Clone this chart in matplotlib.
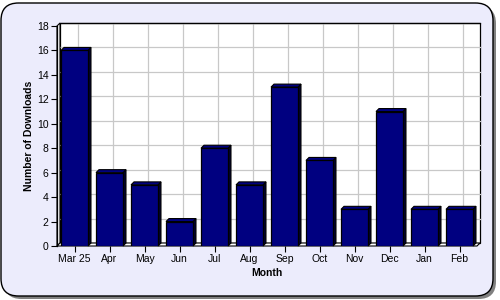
import matplotlib
matplotlib.use("Agg")
import matplotlib.pyplot as plt
from matplotlib.patches import Polygon, Rectangle, FancyBboxPatch

# Datos
months = ["Mar 25", "Apr", "May", "Jun", "Jul", "Aug", "Sep", "Oct", "Nov", "Dec", "Jan", "Feb"]
downloads = [16, 6, 5, 2, 8, 5, 13, 7, 3, 11, 3, 3]
y_ticks = [0, 2, 4, 6, 8, 10, 12, 14, 16, 18]

BG = "#ECECFC"
NAVY = "#000080"
SIDE = "#000030"
GRID = "#C8C8C8"

plt.rcParams["font.family"] = ["Liberation Sans", "DejaVu Sans"]

W, H = 500, 300
fig = plt.figure(figsize=(W / 100, H / 100), dpi=100)
fig.patch.set_facecolor("white")

# marco redondeado con sombra
shadow = FancyBboxPatch((4 / W, 1 / H), 492 / W, 293 / H,
                        boxstyle="round,pad=0,rounding_size=0.035",
                        transform=fig.transFigure, facecolor="#808080",
                        edgecolor="none", mutation_aspect=W / H, zorder=-10)
frame = FancyBboxPatch((1 / W, 4 / H), 492 / W, 293 / H,
                       boxstyle="round,pad=0,rounding_size=0.035",
                       transform=fig.transFigure, facecolor=BG,
                       edgecolor="black", linewidth=1.0, mutation_aspect=W / H, zorder=-9)
fig.patches.extend([shadow, frame])

ax = fig.add_axes([57 / W, 54 / H, 420 / W, 220 / H])
ax.set_facecolor("none")
n = len(months)
ax.set_xlim(-0.5, n - 0.5)
ax.set_ylim(0, 18)

# profundidad 3D en unidades de datos (~3 px)
dx = 3 / (420 / n)
dy = 3 / (220 / 18)

# pared de fondo
ax.add_patch(Rectangle((-0.5 + dx, dy), n, 18, facecolor="white",
                       edgecolor="black", linewidth=0.9, zorder=0, clip_on=False))
for y in y_ticks[1:-1]:
    ax.plot([-0.5 + dx, n - 0.5 + dx], [y + dy, y + dy], color=GRID, lw=0.9, zorder=1,
            clip_on=False)
for i in range(n):
    ax.plot([i + dx, i + dx], [dy, 18 + dy], color=GRID, lw=0.9, zorder=1, clip_on=False)
ax.plot([-0.5 + dx, n - 0.5 + dx], [18 + dy, 18 + dy], color="black", lw=0.9, zorder=1,
        clip_on=False)

# pared izquierda y piso
ax.add_patch(Polygon([(-0.5, 0), (-0.5, 18), (-0.5 + dx, 18 + dy), (-0.5 + dx, dy)],
                     closed=True, facecolor="white", edgecolor="black", lw=0.8, zorder=2,
                     clip_on=False))
ax.add_patch(Polygon([(-0.5, 0), (n - 0.5, 0), (n - 0.5 + dx, dy), (-0.5 + dx, dy)],
                     closed=True, facecolor="white", edgecolor="black", lw=0.8, zorder=2,
                     clip_on=False))

# barras
bw = 0.77
bars = ax.bar(range(n), downloads, width=bw, color=NAVY, edgecolor="black",
              linewidth=0.9, zorder=4)
for b in bars:
    x0, x1 = b.get_x(), b.get_x() + b.get_width()
    h = b.get_height()
    ax.add_patch(Polygon([(x1, 0), (x1 + dx, dy), (x1 + dx, h + dy), (x1, h)],
                         closed=True, facecolor=SIDE, edgecolor="black", lw=0.8, zorder=3,
                         clip_on=False))
    ax.add_patch(Polygon([(x0, h), (x0 + dx, h + dy), (x1 + dx, h + dy), (x1, h)],
                         closed=True, facecolor=NAVY, edgecolor="black", lw=0.8, zorder=3,
                         clip_on=False))

for s in ["top", "right", "bottom"]:
    ax.spines[s].set_visible(False)
ax.spines["left"].set_linewidth(0.9)
ax.spines["left"].set_zorder(5)

ax.set_xticks(range(n))
ax.set_xticklabels(months)
ax.set_yticks(y_ticks)
ax.tick_params(axis="both", labelsize=7.5, length=4, width=0.8, color="black", pad=2)
ax.tick_params(axis="x", length=4, direction="out", pad=2)
ax.set_xlabel("Month", fontsize=7.5, fontweight="bold", labelpad=3)
ax.set_ylabel("Number of Downloads", fontsize=7.5, fontweight="bold", labelpad=2)

fig.savefig("out.png", dpi=100, facecolor="white")
